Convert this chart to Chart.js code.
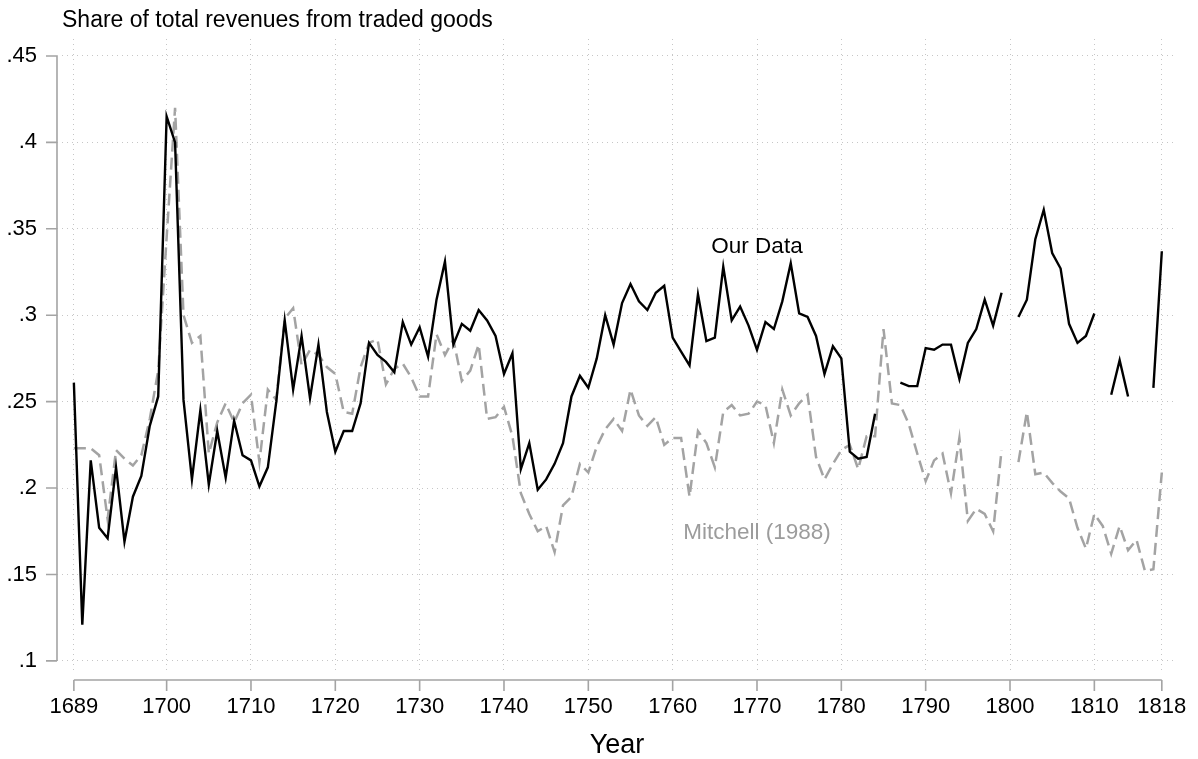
<!DOCTYPE html>
<html>
<head>
<meta charset="utf-8">
<script src="https://cdn.jsdelivr.net/npm/chart.js@4/dist/chart.umd.min.js"></script>
<style>
html,body{margin:0;padding:0;background:#fff;}
#wrap{width:1198px;height:759px;}
</style>
</head>
<body>
<div id="wrap"><canvas id="c" width="1198" height="759"></canvas></div>
<script>
const years = [
 1689,1690,1691,1692,1693,1694,1695,1696,1697,1698,
 1699,1700,1701,1702,1703,1704,1705,1706,1707,1708,
 1709,1710,1711,1712,1713,1714,1715,1716,1717,1718,
 1719,1720,1721,1722,1723,1724,1725,1726,1727,1728,
 1729,1730,1731,1732,1733,1734,1735,1736,1737,1738,
 1739,1740,1741,1742,1743,1744,1745,1746,1747,1748,
 1749,1750,1751,1752,1753,1754,1755,1756,1757,1758,
 1759,1760,1761,1762,1763,1764,1765,1766,1767,1768,
 1769,1770,1771,1772,1773,1774,1775,1776,1777,1778,
 1779,1780,1781,1782,1783,1784,1785,1786,1787,1788,
 1789,1790,1791,1792,1793,1794,1795,1796,1797,1798,
 1799,1800,1801,1802,1803,1804,1805,1806,1807,1808,
 1809,1810,1811,1812,1813,1814,1815,1816,1817,1818
];
const ourData = [
 .261,.121,.216,.177,.171,.212,.169,.195,.207,.236,
 .253,.415,.400,.251,.205,.245,.202,.233,.206,.239,
 .219,.216,.201,.212,.250,.297,.257,.288,.252,.283,
 .244,.221,.233,.233,.249,.284,.277,.273,.267,.296,
 .283,.293,.276,.309,.331,.283,.295,.291,.303,.297,
 .288,.266,.278,.211,.226,.199,.205,.214,.226,.253,
 .265,.258,.275,.300,.283,.307,.318,.308,.303,.313,
 .317,.287,.279,.271,.312,.285,.287,.328,.297,.305,
 .294,.280,.296,.292,.308,.330,.301,.299,.288,.266,
 .282,.275,.221,.217,.218,.243,null,null,.261,.259,
 .259,.281,.280,.283,.283,.263,.284,.292,.309,.294,
 .313,null,.299,.309,.344,.361,.336,.327,.295,.284,
 .288,.301,null,.254,.274,.253,null,null,.258,.337
];
const mitchell = [
 .223,.223,.223,.219,.182,.222,.217,.213,.219,.240,
 .268,.345,.420,.300,.284,.288,.220,.238,.249,.238,
 .249,.254,.215,.257,.251,.298,.304,.271,.280,.277,
 .270,.266,.244,.243,.270,.284,.286,.260,.269,.272,
 .264,.253,.253,.289,.277,.286,.262,.268,.283,.240,
 .241,.247,.230,.197,.185,.175,.178,.163,.190,.195,
 .214,.209,.224,.234,.240,.233,.257,.242,.236,.241,
 .225,.229,.229,.195,.233,.226,.212,.244,.248,.242,
 .243,.250,.248,.226,.257,.242,.249,.254,.218,.205,
 .214,.222,.225,.211,.230,.230,.292,.249,.248,.237,
 .220,.204,.216,.220,.197,.229,.181,.188,.185,.175,
 .222,null,.215,.244,.208,.209,.203,.198,.194,.177,
 .165,.185,.178,.162,.178,.164,.170,.152,.153,.209
];
const xTicks = [1689,1700,1710,1720,1730,1740,1750,1760,1770,1780,1790,1800,1810,1818];
const yTicks = [.1,.15,.2,.25,.3,.35,.4,.45];
const yTickLabels = ['.1','.15','.2','.25','.3','.35','.4','.45'];
const yAxisTitle = 'Share of total revenues from traded goods';
const xAxisTitle = 'Year';
const seriesNames = ['Our Data','Mitchell (1988)'];
const seriesLabelPos = [[1770,.3395],[1770,.174]];

const FONT = '"Liberation Sans", Arial, Helvetica, sans-serif';
Chart.defaults.font.family = FONT;
Chart.defaults.color = '#000';

const GRID = '#c6c6c6';
const AXIS = '#a4a4a4';
const GRAYLINE = '#a3a3a3';

const stataAxes = {
  id: 'stataAxes',
  afterDraw(chart) {
    const {ctx, chartArea, scales: {x, y}} = chart;
    ctx.save();
    ctx.strokeStyle = AXIS;
    ctx.lineWidth = 1.6;
    ctx.setLineDash([]);
    // y axis
    const ax = chartArea.left;
    const yA = y.getPixelForValue(yTicks[0]);
    const yB = y.getPixelForValue(yTicks[yTicks.length - 1]);
    ctx.beginPath();
    ctx.moveTo(ax, yA); ctx.lineTo(ax, yB);
    yTicks.forEach(v => { const p = y.getPixelForValue(v); ctx.moveTo(ax - 11, p); ctx.lineTo(ax, p); });
    ctx.stroke();
    // x axis
    const ay = chartArea.bottom + 7;
    const xA = x.getPixelForValue(xTicks[0]);
    const xB = x.getPixelForValue(xTicks[xTicks.length - 1]);
    ctx.beginPath();
    ctx.moveTo(xA, ay); ctx.lineTo(xB, ay);
    xTicks.forEach(v => { const p = x.getPixelForValue(v); ctx.moveTo(p, ay); ctx.lineTo(p, ay + 11); });
    ctx.stroke();
    // y axis title (Stata places it on top)
    ctx.fillStyle = '#000';
    ctx.font = '23px ' + FONT;
    ctx.textAlign = 'left';
    ctx.textBaseline = 'alphabetic';
    ctx.fillText(yAxisTitle, 62, 27);
    // series labels
    ctx.textAlign = 'center';
    ctx.textBaseline = 'middle';
    ctx.font = '22.5px ' + FONT;
    ctx.fillStyle = '#000';
    ctx.fillText(seriesNames[0], x.getPixelForValue(seriesLabelPos[0][0]), y.getPixelForValue(seriesLabelPos[0][1]));
    ctx.fillStyle = '#9c9c9c';
    ctx.fillText(seriesNames[1], x.getPixelForValue(seriesLabelPos[1][0]), y.getPixelForValue(seriesLabelPos[1][1]));
    ctx.restore();
  }
};

new Chart(document.getElementById('c'), {
  type: 'line',
  data: {
    datasets: [
      {
        label: seriesNames[0],
        data: years.map((yr, i) => ({x: yr, y: ourData[i]})),
        borderColor: '#000',
        borderWidth: 2.4,
        pointRadius: 0,
        spanGaps: false,
        tension: 0,
        fill: false
      },
      {
        label: seriesNames[1],
        data: years.map((yr, i) => ({x: yr, y: mitchell[i]})),
        borderColor: GRAYLINE,
        borderWidth: 2.5,
        borderDash: [12, 6],
        pointRadius: 0,
        spanGaps: false,
        tension: 0,
        fill: false
      }
    ]
  },
  options: {
    responsive: false,
    animation: false,
    devicePixelRatio: 1,
    layout: {padding: {top: 39, right: 21, bottom: 0, left: 0}},
    plugins: {legend: {display: false}, tooltip: {enabled: false}, title: {display: false}},
    scales: {
      x: {
        type: 'linear',
        min: 1687,
        max: 1819.8,
        afterBuildTicks: s => { s.ticks = xTicks.map(v => ({value: v})); },
        afterFit: s => { s.height = 86; s.paddingLeft = 0; s.paddingRight = 0; },
        grid: {color: GRID, lineWidth: 1, drawTicks: false},
        border: {display: false, dash: [1, 4]},
        ticks: {padding: 21, font: {size: 22}, color: '#000', maxRotation: 0, autoSkip: false,
                callback: (v, i) => String(xTicks[i])},
        title: {display: true, text: xAxisTitle, font: {size: 27, lineHeight: 1}, padding: 0, color: '#000'}
      },
      y: {
        type: 'linear',
        min: 0.093,
        max: 0.4598,
        afterBuildTicks: s => { s.ticks = yTicks.map(v => ({value: v})); },
        afterFit: s => { s.width = 57; s.paddingTop = 0; s.paddingBottom = 0; },
        grid: {color: GRID, lineWidth: 1, drawTicks: false},
        border: {display: false, dash: [1, 4]},
        ticks: {padding: 20, font: {size: 22}, color: '#000', autoSkip: false,
                callback: (v, i) => yTickLabels[i]}
      }
    }
  },
  plugins: [stataAxes]
});
</script>
</body>
</html>
